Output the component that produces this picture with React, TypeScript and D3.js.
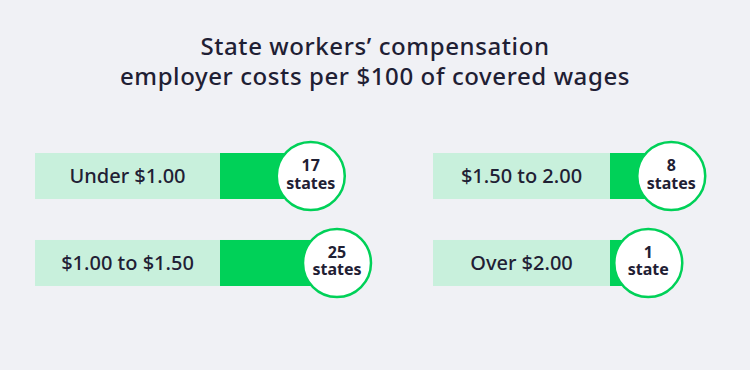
import React, { useEffect } from "react";
import * as d3 from "d3";

// data
const titleLines = ["State workers’ compensation", "employer costs per $100 of covered wages"];
const categories = ["Under $1.00", "$1.00 to $1.50", "$1.50 to 2.00", "Over $2.00"];
const stateCounts = [17, 25, 8, 1];
const unitLabels = ["states", "states", "states", "state"];
const columnOf = [0, 0, 1, 1];
const rowOf = [0, 1, 0, 1];

const width = 750;
const height = 370;
const font = "'Noto Sans', 'Open Sans', sans-serif";
const ink = "#1f2034";
const lightGreen = "#c8f0dc";
const green = "#00d158";

// layout of the two columns (label box start / width)
const columns = [
  { x: 35, w: 185 },
  { x: 433, w: 177 },
];

const App = () => {
  useEffect(() => {
    document.body.style.margin = "0";
  }, []);

  const y = d3.scaleBand<number>().domain([0, 1]).range([153, 286]).paddingInner(0.471);
  // offset of the circle centre past the end of the label box
  const len = d3.scaleLinear().domain([0, 25]).range([35, 117]);
  const r = 34;

  return (
    <svg width={width} height={height} style={{ display: "block", background: "#f0f1f5" }}>
      <rect width={width} height={height} fill="#f0f1f5" />
      <g fontFamily={font} fill={ink} textAnchor="middle" fontSize={24} fontWeight={500} letterSpacing={0.6}>
        {titleLines.map((t, i) => (
          <text key={t} x={375} y={54.5 + i * 30}>
            {t}
          </text>
        ))}
      </g>
      {categories.map((c, i) => {
        const col = columns[columnOf[i]];
        const top = y(rowOf[i]) as number;
        const bh = y.bandwidth();
        const cy = top + bh / 2;
        const end = col.x + col.w;
        const cx = end + len(stateCounts[i]);
        return (
          <g key={c} fontFamily={font}>
            <rect x={col.x} y={top} width={col.w} height={bh} fill={lightGreen} />
            <rect x={end} y={top} width={cx - end} height={bh} fill={green} />
            <circle cx={cx} cy={cy} r={r} fill="#ffffff" stroke={green} strokeWidth={2.5} />
            <text x={col.x + col.w / 2} y={cy + 7} textAnchor="middle" fontSize={20} fontWeight={500} fill={ink}>
              {c}
            </text>
            <text x={cx} y={cy - 5} textAnchor="middle" fontSize={16} fontWeight={700} fill={ink}>
              {stateCounts[i]}
            </text>
            <text x={cx} y={cy + 12.5} textAnchor="middle" fontSize={16} fontWeight={700} fill={ink}>
              {unitLabels[i]}
            </text>
          </g>
        );
      })}
    </svg>
  );
};

export default App;
